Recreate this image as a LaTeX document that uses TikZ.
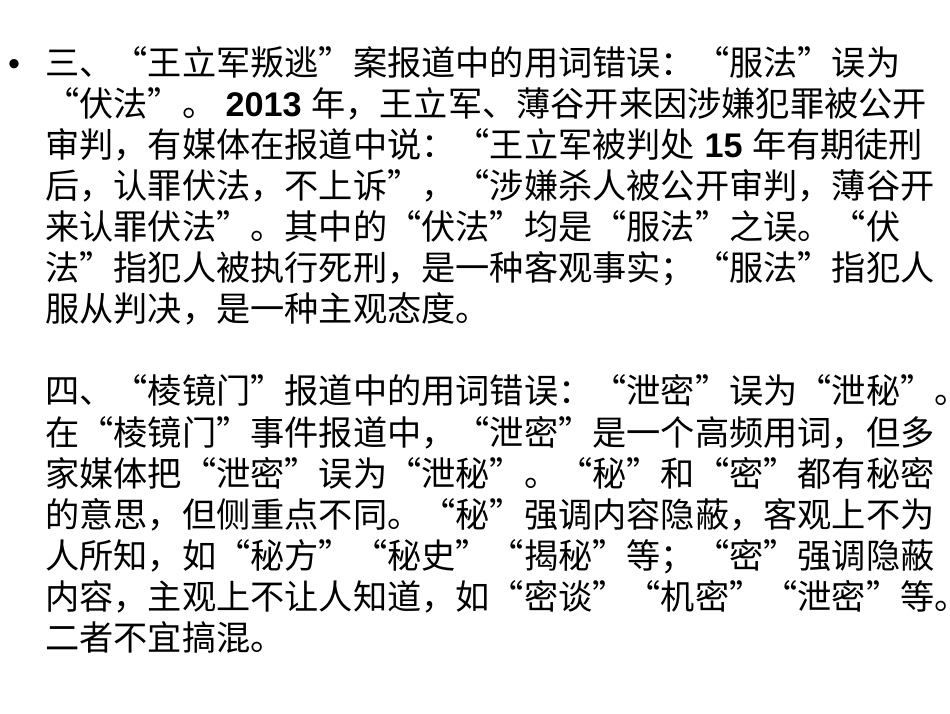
\documentclass[tikz,border=0pt]{standalone}
\usepackage{fontspec}
\setmainfont{Noto Sans CJK SC}
\newfontfamily\lat{Liberation Sans}
\begin{document}
\begin{tikzpicture}[x=1pt,y=1pt]
\tikzset{ln/.style={anchor=base west,inner sep=0pt,font=\fontsize{34.2}{40}\selectfont}}
\useasboundingbox (0,0) rectangle (950,713);
\clip (0,0) rectangle (950,713);
\fill[white] (0,0) rectangle (950,713);
\node[ln] (b) at (8,713-76) {\lat •};
\def\L#1#2#3{\node[ln] (#1) at (45,713-#2-13) {#3};}
\L{l1}{63}{三、“王立军叛逃”案报道中的用词错误：“服法”误为}
\L{l2}{104}{“伏法”。{\lat\bfseries\ 2013 }年，王立军、薄谷开来因涉嫌犯罪被公开}
\L{l3}{145}{审判，有媒体在报道中说：“王立军被判处{\lat\bfseries\ 15 }年有期徒刑}
\L{l4}{186}{后，认罪伏法，不上诉”，“涉嫌杀人被公开审判，薄谷开}
\L{l5}{227}{来认罪伏法”。其中的“伏法”均是“服法”之误。“伏}
\L{l6}{268}{法”指犯人被执行死刑，是一种客观事实；“服法”指犯人}
\L{l7}{309}{服从判决，是一种主观态度。}
\L{l8}{391}{四、“棱镜门”报道中的用词错误：“泄密”误为“泄秘”。}
\L{l9}{432}{在“棱镜门”事件报道中，“泄密”是一个高频用词，但多}
\L{l10}{473}{家媒体把“泄密”误为“泄秘”。“秘”和“密”都有秘密}
\L{l11}{514}{的意思，但侧重点不同。“秘”强调内容隐蔽，客观上不为}
\L{l12}{555}{人所知，如“秘方”“秘史”“揭秘”等；“密”强调隐蔽}
\L{l13}{596}{内容，主观上不让人知道，如“密谈”“机密”“泄密”等。}
\L{l14}{637}{二者不宜搞混。}
\end{tikzpicture}
\end{document}
